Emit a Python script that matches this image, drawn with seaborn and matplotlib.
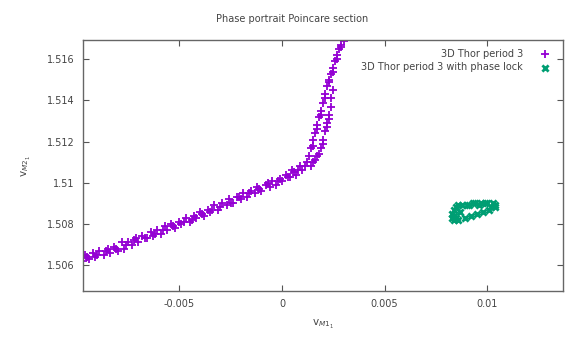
import matplotlib
matplotlib.use("Agg")
import matplotlib.pyplot as plt
import seaborn as sns
import pandas as pd
from matplotlib.ticker import FixedLocator, FixedFormatter

# Poincare section points, 3D Thor circuit, period-3 orbit
period3_x = [
    -0.0097, -0.0096, -0.0094, -0.0092, -0.0091, -0.0089, -0.0087, -0.0085,
    -0.0084, -0.0082, -0.0080, -0.0078, -0.0077, -0.0075, -0.0073, -0.0071,
    -0.0070, -0.0068, -0.0066, -0.0064, -0.0063, -0.0061, -0.0059, -0.0057,
    -0.0056, -0.0054, -0.0052, -0.0050, -0.0049, -0.0047, -0.0045, -0.0043,
    -0.0042, -0.0040, -0.0038, -0.0036, -0.0035, -0.0033, -0.0031, -0.0029,
    -0.0027, -0.0026, -0.0024, -0.0022, -0.0020, -0.0019, -0.0017, -0.0015,
    -0.0013, -0.0012, -0.0010, -0.0008, -0.0006, -0.0005, -0.0003, -0.0001,
    0.0000, 0.0002, 0.0004, 0.0005, 0.0007, 0.0009, 0.0010, 0.0012,
    # middle row of the lower band
    -0.0095, -0.0090, -0.0086, -0.0081, -0.0076, -0.0072, -0.0067, -0.0062,
    -0.0058, -0.0053, -0.0048, -0.0044, -0.0039, -0.0034, -0.0030, -0.0025,
    -0.0021, -0.0016, -0.0011, -0.0007, -0.0002, 0.0003, 0.0006, 0.0008,
    0.0011,
    # inner branch
    0.0013, 0.0014, 0.0015, 0.0016, 0.0017, 0.0018, 0.0019, 0.0020,
    0.0021, 0.0022, 0.0023, 0.0024, 0.0025, 0.0026, 0.0027, 0.0028,
    0.0029, 0.0030,
    0.0015, 0.0017, 0.0019, 0.0021, 0.0023, 0.0025, 0.0027, 0.0029,
    # outer branch
    0.0014, 0.0016, 0.0018, 0.0019, 0.0020, 0.0021, 0.0022, 0.0023,
    0.0024, 0.0024, 0.0025,
    0.0015, 0.0017, 0.0020, 0.0022, 0.0023,
]
period3_y = [
    1.5062, 1.5065, 1.5063, 1.5066, 1.5064, 1.5067, 1.5065, 1.5068,
    1.5066, 1.5069, 1.5067, 1.5071, 1.5068, 1.5071, 1.5070, 1.5073,
    1.5071, 1.5074, 1.5073, 1.5076, 1.5074, 1.5077, 1.5075, 1.5079,
    1.5077, 1.5080, 1.5078, 1.5081, 1.5080, 1.5083, 1.5081, 1.5084,
    1.5083, 1.5086, 1.5084, 1.5087, 1.5086, 1.5089, 1.5087, 1.5090,
    1.5089, 1.5092, 1.5090, 1.5093, 1.5092, 1.5095, 1.5093, 1.5096,
    1.5095, 1.5098, 1.5096, 1.5099, 1.5098, 1.5101, 1.5099, 1.5102,
    1.5101, 1.5104, 1.5103, 1.5106, 1.5104, 1.5108, 1.5106, 1.5110,
    1.5064, 1.5065, 1.5067, 1.5068, 1.5070, 1.5072, 1.5073, 1.5075,
    1.5077, 1.5079, 1.5081, 1.5082, 1.5085, 1.5087, 1.5088, 1.5090,
    1.5093, 1.5095, 1.5097, 1.5100, 1.5101, 1.5103, 1.5105, 1.5106,
    1.5108,
    1.5113, 1.5117, 1.5121, 1.5124, 1.5128, 1.5132, 1.5135, 1.5139,
    1.5143, 1.5147, 1.5150, 1.5153, 1.5156, 1.5159, 1.5162, 1.5165,
    1.5167, 1.5169,
    1.5118, 1.5126, 1.5133, 1.5141, 1.5149, 1.5154, 1.5160, 1.5166,
    1.5108, 1.5111, 1.5114, 1.5117, 1.5121, 1.5125, 1.5129, 1.5133,
    1.5137, 1.5141, 1.5145,
    1.5110, 1.5113, 1.5119, 1.5127, 1.5131,
]

# Same system with phase lock: a small closed loop
locked_x = [
    0.0085, 0.0088, 0.0091, 0.0094, 0.0097, 0.0100, 0.0103,
    0.0104, 0.0104,
    0.0101, 0.0098, 0.0095, 0.0092, 0.0089, 0.0086, 0.0084,
    0.0083, 0.0083, 0.0084, 0.0087,
    0.0086, 0.0090, 0.0093, 0.0096, 0.0099, 0.0102, 0.0084, 0.0085,
]
locked_y = [
    1.5088, 1.5089, 1.5089, 1.5090, 1.5090, 1.5090, 1.5090,
    1.5089, 1.5088,
    1.5087, 1.5086, 1.5085, 1.5084, 1.5083, 1.5082, 1.5082,
    1.5083, 1.5085, 1.5087, 1.5086,
    1.5089, 1.5089, 1.5090, 1.5089, 1.5090, 1.5088, 1.5084, 1.5083,
]

x_ticks = [-0.005, 0.0, 0.005, 0.01]
x_tick_labels = ["-0.005", "0", "0.005", "0.01"]
y_ticks = [1.506, 1.508, 1.510, 1.512, 1.514, 1.516]
y_tick_labels = ["1.506", "1.508", "1.51", "1.512", "1.514", "1.516"]

sns.set_theme(style="white")
plt.rcParams["font.family"] = ["DejaVu Sans"]

fig = plt.figure(figsize=(5.85, 3.37), dpi=100)
ax = fig.add_axes([0.1419, 0.1365, 0.8205, 0.7448])

df_p3 = pd.DataFrame({"x": period3_x, "y": period3_y})
df_lock = pd.DataFrame({"x": locked_x, "y": locked_y})

sns.scatterplot(data=df_p3, x="x", y="y", ax=ax, marker="+", s=30,
                color="#9400D3", linewidth=1.3,
                label="3D Thor period 3")
sns.scatterplot(data=df_lock, x="x", y="y", ax=ax, marker="x", s=20,
                color="#009E73", linewidth=2.0,
                label="3D Thor period 3 with phase lock")

ax.set_xlim(-0.0097, 0.0137)
ax.set_ylim(1.50474, 1.51694)

ax.xaxis.set_major_locator(FixedLocator(x_ticks))
ax.xaxis.set_major_formatter(FixedFormatter(x_tick_labels))
ax.yaxis.set_major_locator(FixedLocator(y_ticks))
ax.yaxis.set_major_formatter(FixedFormatter(y_tick_labels))

ax.tick_params(axis="both", direction="in", length=4, width=0.8,
               colors="#555555", labelcolor="#444444", labelsize=7,
               top=True, right=True, bottom=True, left=True, pad=6)
for sp in ax.spines.values():
    sp.set_color("#666666")
    sp.set_linewidth(1.0)

ax.set_xlabel(r"v$_{M1_1}$", fontsize=7.5, color="#444444", labelpad=6)
ax.set_ylabel(r"v$_{M2_1}$", fontsize=7.5, color="#444444", labelpad=10)

fig.text(0.5, 0.945, "Phase portrait Poincare section", ha="center",
         va="center", fontsize=7, color="#444444")

leg = ax.legend(loc="upper right", frameon=False, markerfirst=False,
                fontsize=7, handletextpad=1.2, borderaxespad=0.5,
                labelspacing=0.35)
for t in leg.get_texts():
    t.set_color("#444444")
    t.set_ha("right")

fig.savefig("out.png", dpi=100)
